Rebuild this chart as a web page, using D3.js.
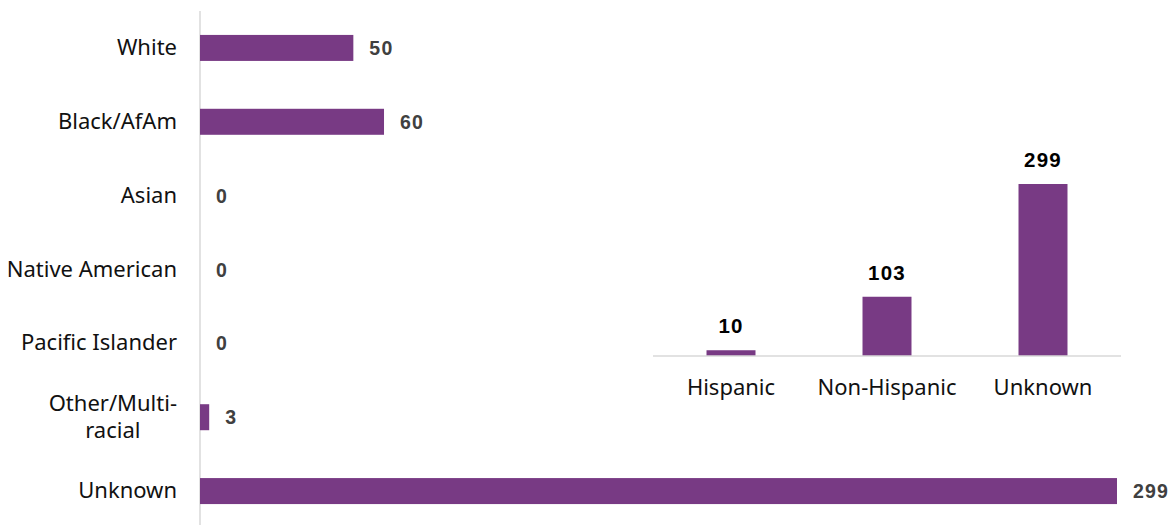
<!DOCTYPE html>
<html>
<head>
<meta charset="utf-8">
<script src="https://cdn.jsdelivr.net/npm/d3@7"></script>
<style>
  html, body { margin: 0; padding: 0; background: #fff; }
  svg { display: block; font-family: "Noto Sans", "Open Sans", sans-serif; }
  .val { font-family: "Liberation Sans", Arial, sans-serif; font-weight: bold; letter-spacing: 1.2px; }
</style>
</head>
<body>
<svg id="chart" width="1176" height="525"></svg>
<script>
// Race chart (horizontal bars)
const raceCategories = ["White", "Black/AfAm", "Asian", "Native American", "Pacific Islander", "Other/Multi-racial", "Unknown"];
const raceValues = [50, 60, 0, 0, 0, 3, 299];
// Ethnicity chart (vertical bars)
const ethCategories = ["Hispanic", "Non-Hispanic", "Unknown"];
const ethValues = [10, 103, 299];

const purple = "#783A84";
const svg = d3.select("#chart");

// ---------- Left: race ----------
const xL = d3.scaleLinear().domain([0, 299]).range([200, 1117]);
const yL = d3.scaleBand().domain(raceCategories).range([11, 528])
  .paddingInner(0.648).paddingOuter(0.324);

svg.append("line")
  .attr("x1", xL(0)).attr("x2", xL(0))
  .attr("y1", 11).attr("y2", 525)
  .attr("stroke", "#d9d9d9").attr("stroke-width", 1.5);

const race = raceCategories.map((c, i) => ({ c, v: raceValues[i] }));

svg.append("g").selectAll("rect").data(race.filter(d => d.v > 0)).join("rect")
  .attr("x", xL(0))
  .attr("y", d => yL(d.c))
  .attr("width", d => xL(d.v) - xL(0))
  .attr("height", yL.bandwidth())
  .attr("fill", purple);

const labelsL = svg.append("g").selectAll("text").data(race).join("text")
  .attr("font-size", 22)
  .attr("fill", "#111");
labelsL.each(function(d) {
  const t = d3.select(this);
  const cy = yL(d.c) + yL.bandwidth() / 2;
  if (d.c === "Other/Multi-racial") {
    t.attr("text-anchor", "middle");
    const first = t.append("tspan").attr("y", cy - 6).text("Other/Multi-");
    const w = first.node().getComputedTextLength();
    const cx = 177 - w / 2;
    first.attr("x", cx);
    t.append("tspan").attr("x", cx).attr("y", cy + 21).text("racial");
  } else {
    t.attr("x", 177).attr("text-anchor", "end").attr("y", cy + 7).text(d.c);
  }
});

svg.append("g").selectAll("text").data(race).join("text")
  .attr("class", "val")
  .attr("x", d => xL(d.v) + 16)
  .attr("y", d => yL(d.c) + yL.bandwidth() / 2 + 7)
  .attr("font-size", 19.5)
  .attr("fill", "#404040")
  .text(d => d.v);

// ---------- Right: ethnicity ----------
const xR = d3.scaleBand().domain(ethCategories).range([653, 1121])
  .paddingInner(0.686).paddingOuter(0.343);
const yR = d3.scaleLinear().domain([0, 299]).range([356, 184]);

const eth = ethCategories.map((c, i) => ({ c, v: ethValues[i] }));

svg.append("g").selectAll("rect").data(eth).join("rect")
  .attr("x", d => xR(d.c))
  .attr("y", d => yR(d.v))
  .attr("width", xR.bandwidth())
  .attr("height", d => yR(0) - yR(d.v))
  .attr("fill", purple);

svg.append("line")
  .attr("x1", 653).attr("x2", 1121)
  .attr("y1", yR(0)).attr("y2", yR(0))
  .attr("stroke", "#d9d9d9").attr("stroke-width", 1.5);

svg.append("g").selectAll("text").data(eth).join("text")
  .attr("class", "val")
  .attr("x", d => xR(d.c) + xR.bandwidth() / 2)
  .attr("y", d => yR(d.v) - 17)
  .attr("text-anchor", "middle")
  .attr("font-size", 20.5)
  .attr("fill", "#000")
  .text(d => d.v);

svg.append("g").selectAll("text").data(eth).join("text")
  .attr("x", d => xR(d.c) + xR.bandwidth() / 2)
  .attr("y", 395)
  .attr("text-anchor", "middle")
  .attr("font-size", 22)
  .attr("fill", "#111")
  .text(d => d.c);
</script>
</body>
</html>
